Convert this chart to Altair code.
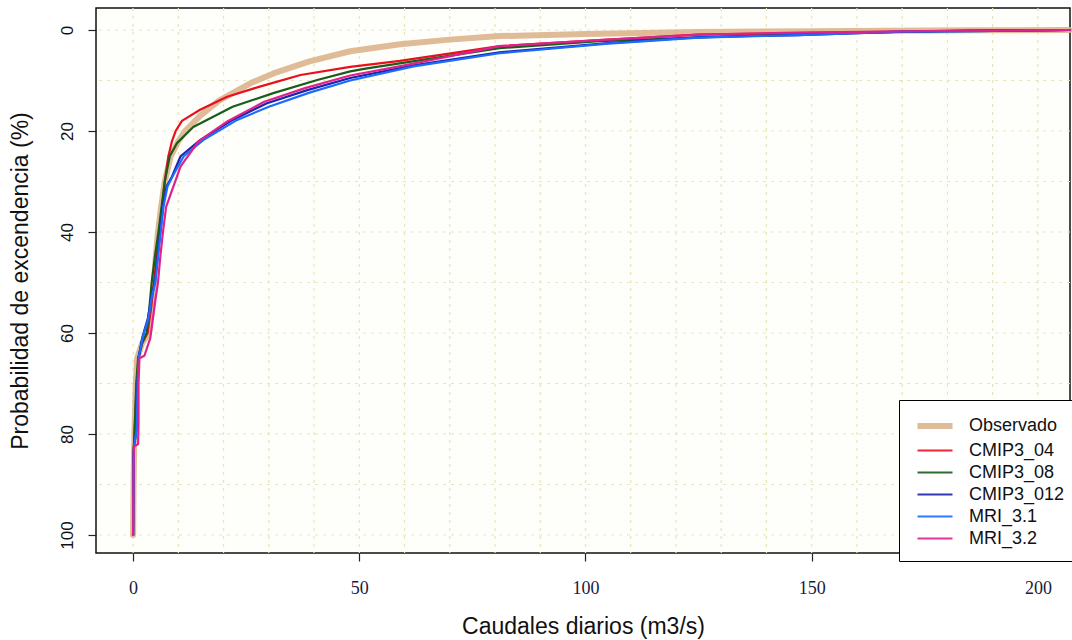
import altair as alt
import pandas as pd

series_names = ["Observado", "CMIP3_04", "CMIP3_08", "CMIP3_012", "MRI_3.1", "MRI_3.2"]
series_colors = ["#dcb48c", "#e8101c", "#1a5c1a", "#1c24a8", "#1a6cff", "#e0208c"]
series_widths = [6, 2.2, 2.2, 2.2, 2.2, 2.2]

obs_flow = [0, 0.1, 0.3, 0.6, 0.9, 2.0, 3.5, 4.2, 4.6, 5.0, 5.5, 6.2, 7.0, 8.3, 10.0, 11.5, 14.8, 19, 26, 31, 39, 48, 59, 70, 81, 100, 125, 150, 185, 207]
obs_prob = [100, 90, 80, 70, 65, 62, 60, 55, 50, 45, 40, 35, 30, 25, 22, 20, 17, 14, 10.5, 8.6, 6.2, 4.2, 2.8, 1.9, 1.2, 0.8, 0.4, 0.25, 0.05, 0]

c04_flow = [0, 0.05, 0.3, 0.8, 1.2, 2.0, 3.2, 4.0, 4.6, 5.2, 5.8, 6.4, 7.0, 7.8, 8.6, 9.4, 10.8, 14.8, 20.8, 28, 37, 48, 59, 81, 103, 125, 147, 185, 207]
c04_prob = [100, 85, 80, 70, 65, 62, 60, 55, 50, 45, 40, 35, 30, 25, 22, 20, 18, 15.8, 13.2, 11.2, 8.9, 7.3, 6.1, 3.2, 2.0, 0.9, 0.6, 0.1, 0]

c08_flow = [0, 0.05, 0.3, 0.7, 1.1, 2.0, 3.0, 3.6, 4.1, 4.8, 5.6, 6.3, 7.0, 8.1, 9.7, 13.3, 22, 31, 40.7, 48, 51.7, 81, 103, 147, 185, 207]
c08_prob = [100, 85, 80, 70, 65, 62, 60, 55, 50, 45, 40, 35, 30, 25, 22.4, 19.2, 15.2, 12.5, 9.9, 8.2, 7.6, 3.6, 2.2, 0.8, 0.1, 0]

c012_flow = [0, 0.1, 0.2, 0.8, 0.9, 1.0, 1.2, 2.0, 3.3, 4.0, 4.8, 5.4, 6.0, 6.6, 7.4, 8.6, 10.5, 14.8, 22, 29.6, 38.5, 48, 62, 81, 105, 125, 147, 170, 185, 207]
c012_prob = [100, 85, 82.5, 79, 75, 70, 65, 61, 57, 53, 50, 45, 40, 35, 31, 29, 25, 21.8, 17.8, 14.5, 11.9, 9.5, 7, 4.4, 2.6, 1.4, 1.0, 0.3, 0.2, 0]

m31_flow = [0, 0.1, 0.2, 0.8, 0.9, 1.0, 1.2, 2.1, 3.4, 4.1, 4.9, 5.5, 6.1, 6.7, 7.6, 9.0, 11.2, 15.5, 23, 30, 39, 48, 62, 81, 105, 125, 147, 170, 185, 207]
m31_prob = [100, 85, 82.5, 79, 75, 70, 65, 61, 57, 53, 50, 45, 40, 35, 31, 28.5, 25, 21.8, 17.8, 15.2, 12.4, 10, 7.2, 4.6, 2.7, 1.5, 1.0, 0.3, 0.2, 0]

m32_flow = [0, 0.1, 0.2, 1.1, 1.2, 1.2, 1.4, 2.5, 3.8, 4.4, 5.0, 5.5, 6.0, 6.6, 7.3, 8.9, 10.5, 14.5, 21, 29, 38, 48, 60, 81, 103, 125, 147, 185, 207]
m32_prob = [100, 85, 82.5, 82, 78, 70, 65, 64.5, 61, 57, 53, 50, 45, 40, 35, 31, 27, 22, 18, 14.2, 11.5, 9, 7, 3.2, 2.0, 0.9, 0.5, 0.1, 0]

grid_x = list(range(0, 210, 10))
grid_y = list(range(0, 110, 10))
x_ticks = [0, 50, 100, 150, 200]
y_ticks = [0, 20, 40, 60, 80, 100]

flows = [obs_flow, c04_flow, c08_flow, c012_flow, m31_flow, m32_flow]
probs = [obs_prob, c04_prob, c08_prob, c012_prob, m31_prob, m32_prob]

rows = []
for name, fl, pr in zip(series_names, flows, probs):
    for i, (f, p) in enumerate(zip(fl, pr)):
        rows.append({"series": name, "flow": f, "prob": p, "idx": i})
df = pd.DataFrame(rows)

xscale = alt.Scale(domain=[-8.2, 207.1], nice=False, zero=False)
yscale = alt.Scale(domain=[-4.36, 103.56], nice=False, zero=False, reverse=True)

x_axis = alt.Axis(
    values=x_ticks, title="Caudales diarios (m3/s)", grid=False, domain=False,
    tickSize=8, tickColor="#222222", tickWidth=1.2,
    labelFont="Liberation Serif", labelFontSize=18, labelColor="#1a1a40",
    labelPadding=18, labelOverlap=False,
    titleFont="Liberation Sans", titleFontSize=23, titleFontWeight="normal",
    titleColor="#111111", titlePadding=18,
)
y_axis = alt.Axis(
    values=y_ticks, title="Probabilidad de excendencia (%)", grid=False, domain=False,
    tickSize=8, tickColor="#222222", tickWidth=1.2,
    labelFont="Liberation Sans", labelFontSize=17, labelColor="#111111",
    labelAngle=270, labelAlign="center", labelBaseline="bottom",
    labelPadding=12, labelOverlap=False,
    titleFont="Liberation Sans", titleFontSize=23, titleFontWeight="normal",
    titleColor="#111111", titlePadding=26,
)

grid_color = "#e9e4bc"
gx = alt.Chart(pd.DataFrame({"g": grid_x})).mark_rule(
    color=grid_color, strokeDash=[3, 5], strokeWidth=1.2
).encode(x=alt.X("g:Q", scale=xscale, axis=x_axis))
gy = alt.Chart(pd.DataFrame({"g": grid_y})).mark_rule(
    color=grid_color, strokeDash=[3, 5], strokeWidth=1.2
).encode(y=alt.Y("g:Q", scale=yscale, axis=y_axis))

color_scale = alt.Scale(domain=series_names, range=series_colors)
width_scale = alt.Scale(type="ordinal", domain=series_names, range=series_widths)

legend = alt.Legend(
    title=None,
    orient="none",
    legendX=803,
    legendY=392,
    symbolType="M-0.75,0L2.75,0",
    symbolSize=400,
    labelFont="Liberation Sans",
    labelFontSize=18,
    labelColor="#111111",
    labelOffset=31,
    rowPadding=1,
    padding=13,
    strokeColor="black",
    fillColor="white",
    labelLimit=300,
)

layers = []
for k, name in enumerate(series_names):
    ch = alt.Chart(df[df["series"] == name]).mark_line(
        opacity=0.9 if k == 0 else 1.0, strokeJoin="round", strokeCap="round"
    ).encode(
        x=alt.X("flow:Q", scale=xscale, axis=x_axis),
        y=alt.Y("prob:Q", scale=yscale, axis=y_axis),
        color=alt.Color("series:N", scale=color_scale, legend=legend),
        strokeWidth=alt.StrokeWidth("series:N", scale=width_scale, legend=legend),
        order=alt.Order("idx:Q"),
    )
    layers.append(ch)

chart = alt.layer(gx, gy, *layers).properties(
    width=974,
    height=545,
    autosize=alt.AutoSizeParams(type="none"),
    padding={"left": 96, "top": 8, "right": 2, "bottom": 87},
    background="white",
).configure_view(
    stroke="#111111", strokeWidth=1.5, fill="#fefefa"
)

chart.save("out.html", embed_options={"renderer": "svg", "actions": False})
